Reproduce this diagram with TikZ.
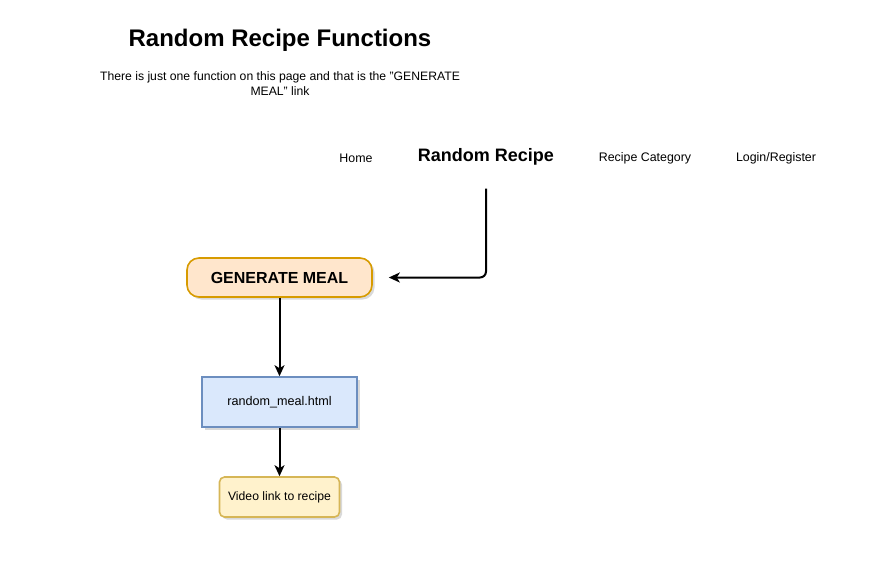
\documentclass[tikz,border=0pt]{standalone}
\usepackage{fontspec}
\setmainfont{Liberation Sans}
\usetikzlibrary{arrows.meta,shadows,positioning}
\definecolor{orfill}{HTML}{FFE6CC}
\definecolor{ordraw}{HTML}{D79B00}
\definecolor{blfill}{HTML}{DAE8FC}
\definecolor{bldraw}{HTML}{6C8EBF}
\definecolor{yefill}{HTML}{FFF2CC}
\definecolor{yedraw}{HTML}{D6B656}
\tikzset{
  sh/.style={drop shadow={shadow xshift=2.5pt,shadow yshift=-2.5pt,opacity=0.25,fill=black!60}},
  txt/.style={inner sep=0pt,align=center,font=\fontsize{12.4}{14}\selectfont},
  conn/.style={line width=2pt,-{Stealth[length=11pt,width=10pt,inset=3pt]}},
}
\begin{document}
\begin{tikzpicture}[x=1pt,y=-1pt]
\useasboundingbox (0,0) rectangle (883,571);
\node[txt,font=\bfseries\fontsize{24}{26}\selectfont] (title) at (280,40) {Random Recipe Functions};
\node[txt,font=\fontsize{12.2}{14.5}\selectfont] (sub) at (280,83.5) {There is just one function on this page and that is the "GENERATE\\MEAL" link};
\node[txt] (home) at (356,158) {Home};
\node[txt,font=\bfseries\fontsize{18}{20}\selectfont,minimum height=64pt] (rr) at (486,156.5) {Random Recipe};
\node[txt] (cat) at (645,158) {Recipe Category};
\node[txt] (login) at (776,158) {Login/Register};
\node[sh,draw=ordraw,fill=orfill,line width=1.6pt,rounded corners=12pt,minimum width=185pt,minimum height=39pt,font=\bfseries\fontsize{16}{18}\selectfont] (gen) at (279.5,277.5) {GENERATE MEAL};
\node[sh,draw=bldraw,fill=blfill,line width=1.6pt,minimum width=155pt,minimum height=50pt,font=\fontsize{12.6}{14}\selectfont] (html) at (279.5,402) {random\_meal.html};
\node[sh,draw=yedraw,fill=yefill,line width=1.6pt,rounded corners=5pt,minimum width=120pt,minimum height=40pt,font=\fontsize{12.2}{14}\selectfont] (video) at (279.5,497) {Video link to recipe};
\draw[conn,rounded corners=6pt,shorten >=16pt] (rr.south) |- (gen.east);
\draw[conn] (gen.south -| html.north) -- (html.north);
\draw[conn] (html.south) -- (video.north);
\end{tikzpicture}
\end{document}
